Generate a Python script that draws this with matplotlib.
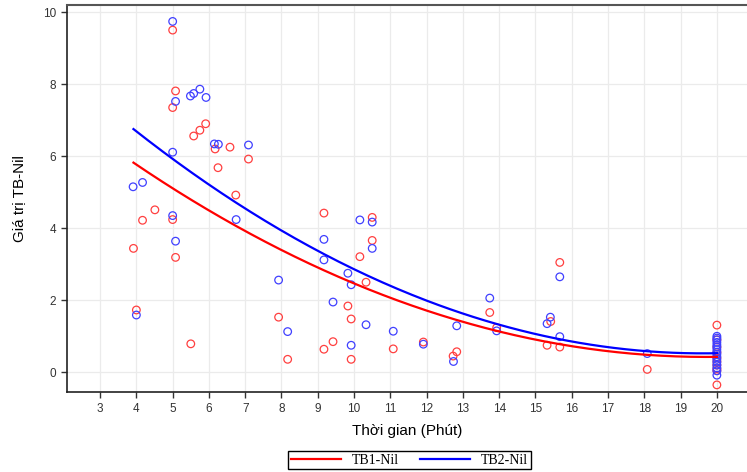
import numpy as np
import matplotlib
matplotlib.use("Agg")
import matplotlib.pyplot as plt

# TB1-Nil (red) observations
tb1_x = [5.0, 5.08, 5.0, 5.91, 5.75, 5.58, 6.17, 6.58, 7.09, 6.25,
         4.51, 4.17, 5.0, 3.92, 5.08, 4.0, 5.5, 6.74,
         7.92, 8.17, 9.17, 9.17, 9.42, 9.83, 9.92, 9.92, 10.5, 10.5,
         10.16, 10.33, 11.08, 11.91,
         12.83, 12.73, 13.74, 13.93, 15.67, 15.42, 15.32, 15.67, 18.08,
         20, 20, 20, 20, 20, 20, 20, 20, 20, 20]
tb1_y = [9.50, 7.81, 7.35, 6.90, 6.72, 6.56, 6.20, 6.25, 5.92, 5.68,
         4.51, 4.22, 4.24, 3.44, 3.19, 1.73, 0.79, 4.92,
         1.53, 0.36, 4.42, 0.64, 0.85, 1.84, 1.48, 0.36, 4.30, 3.66,
         3.21, 2.50, 0.65, 0.84,
         0.57, 0.45, 1.66, 1.24, 3.05, 1.41, 0.75, 0.70, 0.08,
         1.31, 0.90, 0.70, 0.55, 0.40, 0.30, 0.20, 0.10, 0.05, -0.35]

# TB2-Nil (blue) observations
tb2_x = [5.0, 5.08, 5.49, 5.58, 5.75, 5.92, 6.15, 6.26, 7.09, 5.0,
         3.91, 4.17, 5.0, 5.08, 4.0, 6.75,
         7.92, 8.17, 9.17, 9.17, 9.42, 9.83, 9.92, 9.92, 10.16, 10.5, 10.5,
         10.33, 11.08, 11.91,
         12.74, 12.83, 13.74, 13.93, 15.67, 15.41, 15.32, 15.67, 18.08,
         20, 20, 20, 20, 20, 20, 20, 20, 20, 20, 20, 20, 20, 20, 20, 20]
tb2_y = [9.74, 7.52, 7.67, 7.74, 7.86, 7.63, 6.34, 6.33, 6.31, 6.11,
         5.15, 5.27, 4.35, 3.64, 1.59, 4.24,
         2.56, 1.13, 3.69, 3.12, 1.95, 2.75, 2.43, 0.75, 4.23, 4.17, 3.44,
         1.32, 1.14, 0.78,
         0.30, 1.29, 2.06, 1.15, 2.65, 1.53, 1.35, 0.99, 0.52,
         1.00, 0.95, 0.90, 0.83, 0.76, 0.70, 0.63, 0.56, 0.50, 0.43,
         0.36, 0.28, 0.20, 0.12, 0.04, -0.08]

x_ticks = list(range(3, 21))
y_ticks = [0, 2, 4, 6, 8, 10]

plt.rcParams['font.family'] = ['Liberation Sans', 'DejaVu Sans']

fig = plt.figure(figsize=(7.47, 4.72), dpi=100)
ax = fig.add_axes([0.0893, 0.1689, 0.9107, 0.82])

ax.grid(True, color='#ebebeb', linewidth=0.9, zorder=0)
ax.set_axisbelow(True)

ax.scatter(tb1_x, tb1_y, s=30, facecolors='none', edgecolors='#ff4040',
           linewidths=0.9, zorder=3)
ax.scatter(tb2_x, tb2_y, s=30, facecolors='none', edgecolors='#4040ff',
           linewidths=0.9, zorder=3)

# quadratic fit lines
xs = np.linspace(min(tb1_x), 20, 200)
c1 = np.polyfit(tb1_x, tb1_y, 2)
c2 = np.polyfit(tb2_x, tb2_y, 2)
ax.plot(xs, np.polyval(c1, xs), color='red', lw=1.6, label='TB1-Nil', zorder=4)
ax.plot(xs, np.polyval(c2, xs), color='blue', lw=1.6, label='TB2-Nil', zorder=4)

ax.set_xlim(2.08, 20.83)
ax.set_ylim(-0.555, 10.19)
ax.set_xticks(x_ticks)
ax.set_yticks(y_ticks)
ax.tick_params(direction='out', length=4, width=1, colors='#333333',
               labelsize=8.5, labelcolor='#333333')

ax.spines['right'].set_visible(False)
for s in ['left', 'bottom']:
    ax.spines[s].set_color('#222222')
    ax.spines[s].set_linewidth(1.2)
ax.spines['top'].set_color('#555555')
ax.spines['top'].set_linewidth(1.5)

ax.set_xlabel('Thời gian (Phút)', fontsize=11, labelpad=7)
ax.set_ylabel('Giá trị TB-Nil', fontsize=11, labelpad=12)

fig.legend(loc='center', bbox_to_anchor=(0.548, 0.0254), ncol=2,
           frameon=True, fancybox=False, edgecolor='black', framealpha=1,
           prop={'family': 'Liberation Serif', 'size': 10},
           handlelength=3.6, columnspacing=1.5, borderpad=0.2,
           handletextpad=0.8)

fig.savefig('out.png', dpi=100)
